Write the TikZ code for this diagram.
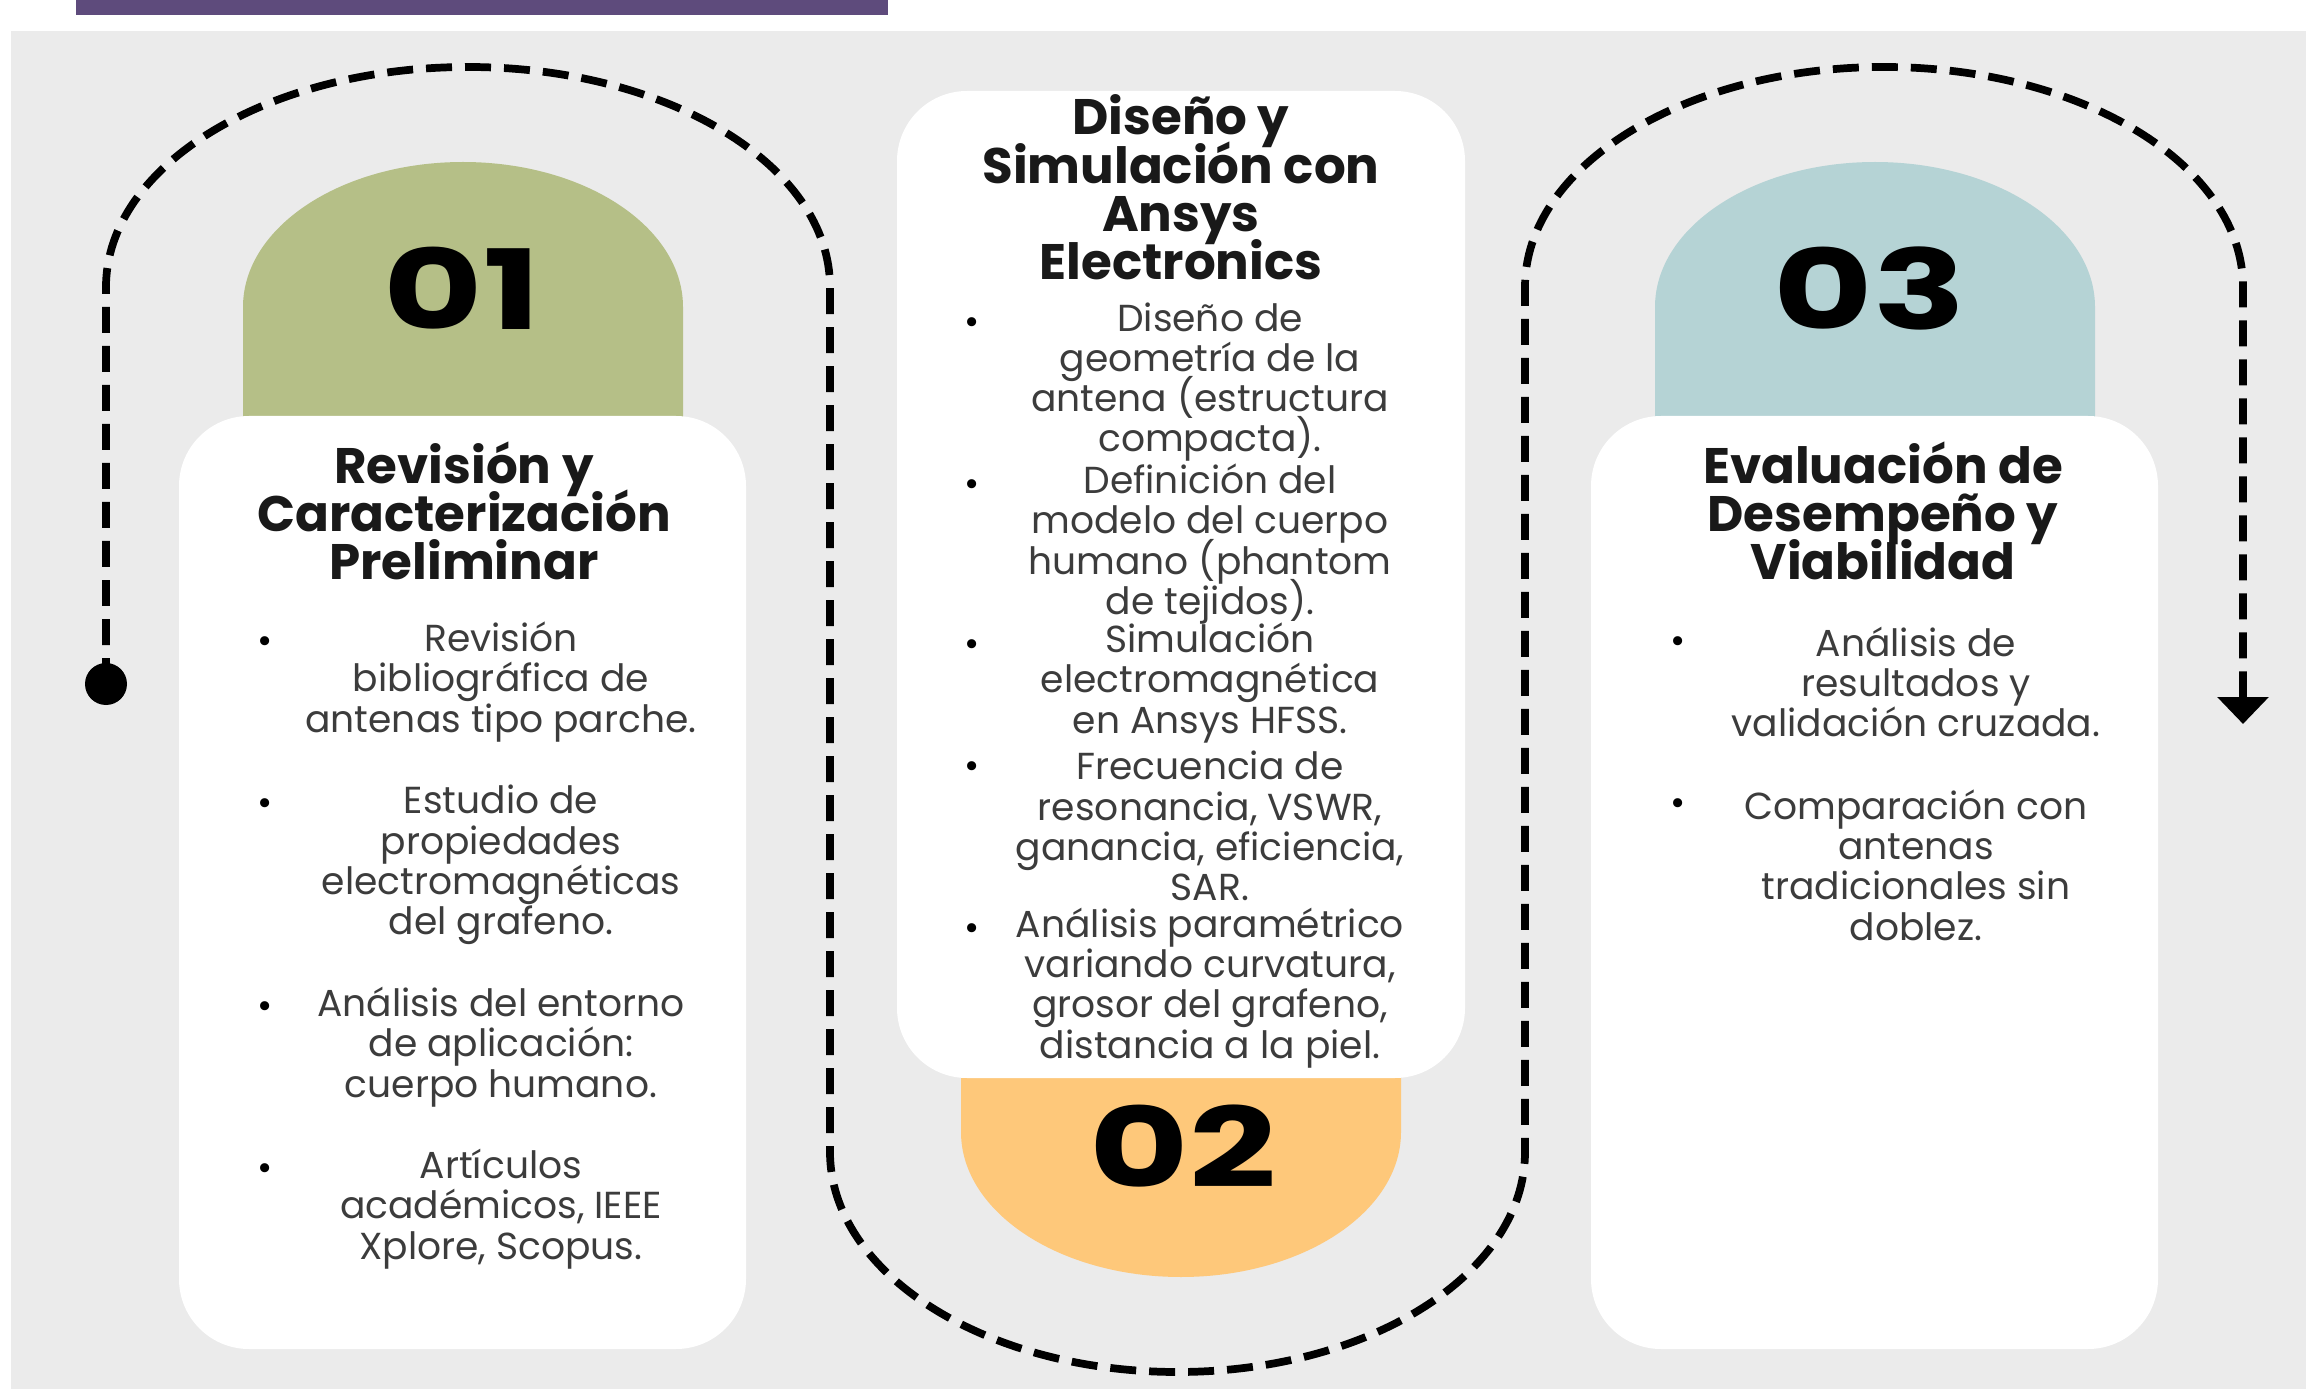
\documentclass[tikz,border=0pt]{standalone}
\usepackage{xcolor}
\usepackage{fontspec}
\setmainfont{Poppins}
\usepackage{tikz}
\usetikzlibrary{positioning,arrows.meta}

\definecolor{sage}{HTML}{B5BF87}
\definecolor{peach}{HTML}{FEC87A}
\definecolor{mist}{HTML}{B5D3D5}
\definecolor{paper}{HTML}{EBEBEB}
\definecolor{plum}{HTML}{5E4B7C}
\definecolor{ink}{HTML}{3C3C3C}

\newcommand{\widenum}[1]{\scalebox{1.38}[1]{#1}}
\newcommand{\tightlines}{\lineskiplimit=-20pt\relax}

\begin{document}
\begin{tikzpicture}
    \tikzstyle{stagecard}=[fill=white,rounded corners=0.7cm]
    \tikzstyle{stagetitle}=[align=center,inner sep=0pt,text=black!90,font=\bfseries\fontsize{14.2}{13.75}\selectfont\tightlines]
    \tikzstyle{bulletitem}=[align=center,inner sep=0pt,text=ink,font=\fontsize{10.7}{11.45}\selectfont\tightlines]
    \tikzstyle{bulletmark}=[inner sep=0pt,text=black,font=\fontsize{10.5}{11.5}\selectfont]
    \tikzstyle{stagenum}=[inner sep=0pt,font=\bfseries\fontsize{31.5}{31.5}\selectfont]
    \tikzstyle{startdot}=[circle,fill=black,inner sep=0pt,minimum size=0.42cm]
    \tikzstyle{trail}=[line width=2.2pt,dash pattern=on 0.26cm off 0.13cm]

    \useasboundingbox (0,0) rectangle (23.06,-13.89);
    \fill[plum] (0.76,0) rectangle (8.88,-0.15);
    \fill[paper] (0.11,-0.31) rectangle (23.06,-13.89);

    % domes behind the cards
    \fill[sage] (2.43,-4.6) -- (2.43,-3.07) arc[start angle=180,end angle=0,x radius=2.2cm,y radius=1.45cm] -- (6.83,-4.6) -- cycle;
    \fill[mist] (16.55,-4.6) -- (16.55,-3.07) arc[start angle=180,end angle=0,x radius=2.2cm,y radius=1.45cm] -- (20.95,-4.6) -- cycle;
    \fill[peach] (9.61,-10.4) -- (9.61,-11.32) arc[start angle=180,end angle=360,x radius=2.2cm,y radius=1.45cm] -- (14.01,-10.4) -- cycle;

    % the winding trail
    \node[startdot] (start) at (1.06,-6.84) {};
    \coordinate (finish) at (22.43,-7.24);
    \draw[trail,-{Triangle[width=0.5cm,length=0.27cm]}] (start.center) -- (1.06,-2.87)
        arc[start angle=180,end angle=0,x radius=3.62cm,y radius=2.2cm] -- (8.30,-11.52)
        arc[start angle=180,end angle=360,x radius=3.475cm,y radius=2.2cm] -- (15.25,-2.87)
        arc[start angle=180,end angle=0,x radius=3.59cm,y radius=2.2cm] -- (finish);

    % cards
    \node[stagecard,minimum width=5.67cm,minimum height=9.33cm] (card1) at (4.625,-8.825) {};
    \node[stagecard,minimum width=5.68cm,minimum height=9.87cm] (card2) at (11.81,-5.845) {};
    \node[stagecard,minimum width=5.67cm,minimum height=9.33cm] (card3) at (18.745,-8.825) {};

    \node[stagenum] (n1) at (4.62,-2.88) {\widenum{01}};
    \node[stagenum] (n2) at (11.83,-11.46) {\widenum{02}};
    \node[stagenum] (n3) at (18.70,-2.88) {\widenum{03}};

    \node[stagetitle] (t1) at (4.64,-5.11) {Revisión y\\Caracterización\\Preliminar};
    \node[stagetitle] (t2) at (11.81,-1.875) {Diseño y\\Simulación con\\Ansys\\Electronics};
    \node[stagetitle] (t3) at (18.83,-5.11) {Evaluación de\\Desempeño y\\Viabilidad};

    \node[bulletitem] (a1) at (5.01,-6.82) {Revisión\\bibliográfica de\\antenas tipo parche.};
    \node[bulletitem] (a2) at (5.01,-8.65) {Estudio de\\propiedades\\electromagnéticas\\del grafeno.};
    \node[bulletitem] (a3) at (5.01,-10.47) {Análisis del entorno\\de aplicación:\\cuerpo humano.};
    \node[bulletitem] (a4) at (5.01,-12.09) {Artículos\\académicos, IEEE\\Xplore, Scopus.};

    \node[bulletitem] (b1) at (12.10,-3.82) {Diseño de\\geometría de la\\antena (estructura\\compacta).};
    \node[bulletitem] (b2) at (12.10,-5.44) {Definición del\\modelo del cuerpo\\humano (phantom\\de tejidos).};
    \node[bulletitem] (b3) at (12.10,-6.83) {Simulación\\electromagnética\\en Ansys HFSS.};
    \node[bulletitem] (b4) at (12.10,-8.26) {Frecuencia de\\resonancia, VSWR,\\ganancia, eficiencia,\\SAR.};
    \node[bulletitem] (b5) at (12.10,-9.88) {Análisis paramétrico\\variando curvatura,\\grosor del grafeno,\\distancia a la piel.};

    \node[bulletitem] (c1) at (19.16,-6.82) {Análisis de\\resultados y\\validación cruzada.};
    \node[bulletitem] (c2) at (19.16,-8.65) {Comparación con\\antenas\\tradicionales sin\\doblez.};

    % bullet marks
    \foreach \x/\y [count=\i] in {2.65/6.45, 2.65/8.07, 2.65/10.10, 2.65/11.72,
        9.72/3.26, 9.72/4.88, 9.72/6.48, 9.72/7.70, 9.72/9.32,
        16.78/6.45, 16.78/8.07}
        \node[bulletmark] (m\i) at (\x,-\y) {•};
\end{tikzpicture}
\end{document}
